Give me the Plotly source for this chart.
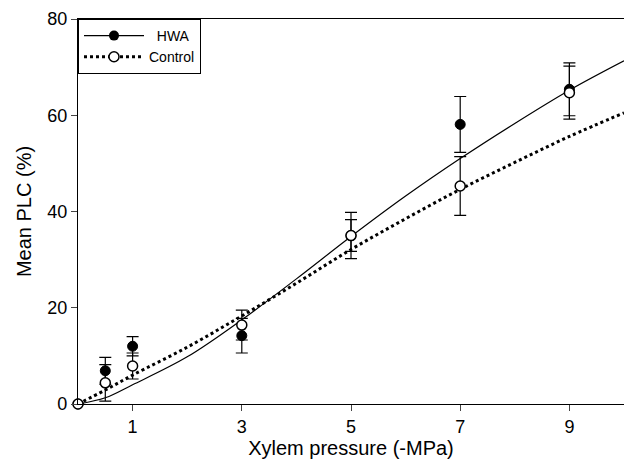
import plotly.graph_objects as go

pressure = [0, 0.5, 1, 3, 5, 7, 9]
hwa_plc = [0, 6.9, 12.0, 14.2, 35.0, 58.1, 65.4]
hwa_err = [0, 2.8, 2.0, 3.6, 4.8, 5.8, 5.5]
ctrl_plc = [0, 4.4, 7.9, 16.4, 35.0, 45.3, 64.7]
ctrl_err = [0, 3.8, 2.7, 3.1, 3.3, 6.1, 5.5]

# Fitted curves
curve_x = [0, 0.5, 1, 2, 3, 4, 5, 6, 7, 8, 9, 10]
hwa_curve = [0, 1.3, 4.0, 9.8, 17.5, 26.0, 34.8, 43.2, 51.0, 58.3, 65.2, 71.3]
ctrl_curve = [0, 2.9, 6.0, 11.8, 18.3, 25.1, 32.1, 38.5, 44.6, 50.2, 55.6, 60.5]

x_ticks = [1, 3, 5, 7, 9]
y_ticks = [0, 20, 40, 60, 80]
series_names = ["\u00a0\u00a0HWA", "Control"]

FONT = "Liberation Sans, Arial, sans-serif"

fig = go.Figure()

fig.add_trace(go.Scatter(x=curve_x, y=hwa_curve, mode="lines", line=dict(color="black", width=1.2, shape="spline"),
                         showlegend=False, hoverinfo="skip"))
fig.add_trace(go.Scatter(x=curve_x, y=ctrl_curve, mode="lines", line=dict(color="black", width=3, dash="dot", shape="spline"),
                         showlegend=False, hoverinfo="skip"))

fig.add_trace(go.Scatter(x=pressure, y=hwa_plc, mode="markers",
                         marker=dict(color="black", size=10, line=dict(color="black", width=1)),
                         error_y=dict(type="data", array=hwa_err, color="black", thickness=1.2, width=6),
                         showlegend=False, cliponaxis=False))
fig.add_trace(go.Scatter(x=pressure, y=ctrl_plc, mode="markers",
                         marker=dict(color="white", size=10, line=dict(color="black", width=1.5)),
                         error_y=dict(type="data", array=ctrl_err, color="black", thickness=1.2, width=6),
                         showlegend=False, cliponaxis=False))

# legend entries
fig.add_trace(go.Scatter(x=[None], y=[None], mode="lines+markers", name=series_names[0],
                         line=dict(color="black", width=1.2),
                         marker=dict(color="black", size=10)))
fig.add_trace(go.Scatter(x=[None], y=[None], mode="lines+markers", name=series_names[1],
                         line=dict(color="black", width=3, dash="dot"),
                         marker=dict(color="white", size=10, line=dict(color="black", width=1.5))))

fig.update_layout(
    width=626, height=466,
    margin=dict(l=78, r=2, t=19, b=62, autoexpand=False),
    plot_bgcolor="white", paper_bgcolor="white",
    font=dict(family=FONT, color="black", size=16),
    showlegend=True,
    legend=dict(x=0, y=1, xanchor="left", yanchor="top", bgcolor="white",
                bordercolor="black", borderwidth=1, font=dict(size=14),
                tracegroupgap=0, itemwidth=60),
    xaxis=dict(range=[0, 10], tickvals=x_ticks, ticks="outside", ticklen=6, tickwidth=1,
               showline=True, linecolor="black", linewidth=1.2, mirror=True, showgrid=False, zeroline=False,
               automargin=False,
               title=dict(text="Xylem pressure (-MPa)", font=dict(size=20), standoff=4),
               tickfont=dict(size=18)),
    yaxis=dict(range=[0, 80], tickvals=y_ticks, ticks="outside", ticklen=6, tickwidth=1,
               showline=True, linecolor="black", linewidth=1.2, showgrid=False, zeroline=False,
               automargin=False,
               title=dict(text="Mean PLC (%)", font=dict(size=20), standoff=10),
               tickfont=dict(size=18)),
)

fig.write_html("out.html", config={"displayModeBar": False},
               post_script="document.body.style.margin='0';")
